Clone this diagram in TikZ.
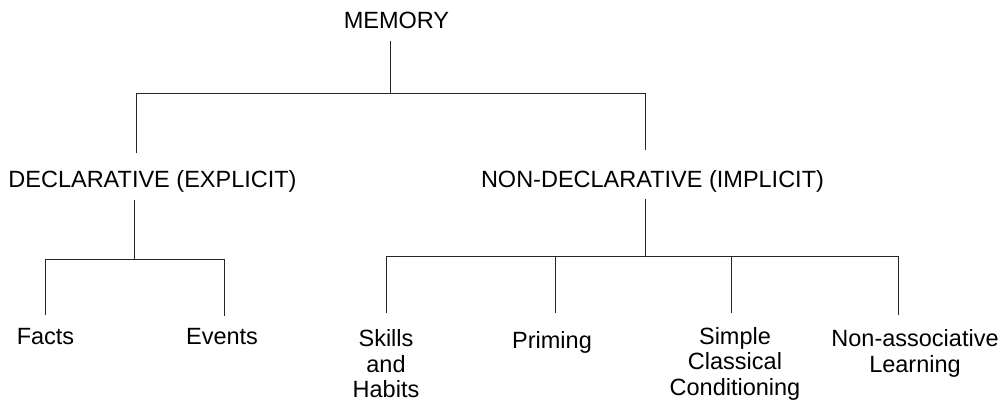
\documentclass[tikz,border=0pt]{standalone}
\usepackage{fontspec}
\setmainfont{Liberation Sans}
\begin{document}
\begin{tikzpicture}[x=1pt,y=-1pt,
  label/.style={inner sep=0pt, anchor=base, align=center,
    font=\fontsize{23.5}{25.5}\selectfont},
  branch/.style={draw=black!85, line width=1pt}]
\useasboundingbox (0,0) rectangle (1001,401);

% node texts (multi-line nodes sit on the baseline of their last line)
\node[label] (mem)  at (396.5,29)  {MEMORY};
\node[label] (decl) at (152.5,187) {DECLARATIVE (EXPLICIT)};
\node[label] (nond) at (652.5,187) {NON-DECLARATIVE (IMPLICIT)};
\node[label] (facts)  at (45.5,344) {Facts};
\node[label] (events) at (222,344)  {Events};
\node[label] (skills) at (386,397.5) {Skills\\and\\Habits};
\node[label] (prim)   at (552,348)  {Priming};
\node[label] (cond)   at (735,395)  {Simple\\Classical\\Conditioning};
\node[label] (nonas)  at (915,372)  {Non-associative\\Learning};

% junction points
\coordinate (m0) at (390.7,41);
\coordinate (mj) at (390.7,94);
\coordinate (dj) at (134.7,200);
\coordinate (dh) at (134.7,259);
\coordinate (nj) at (645,199);
\coordinate (nh) at (645,256);

% top level
\draw[branch] (m0) -- (mj);
\draw[branch] (136,153) |- (645,94) -- (645,150);

% declarative branch
\draw[branch] (dj) -- (dh);
\draw[branch] (45,315) |- (224,259) -- (224,316);

% non-declarative branch
\draw[branch] (nj) -- (nh);
\draw[branch] (386,313) |- (898,256) -- (898,315);
\draw[branch] (555,256) -- (555,313);
\draw[branch] (731,256) -- (731,313);
\end{tikzpicture}
\end{document}
